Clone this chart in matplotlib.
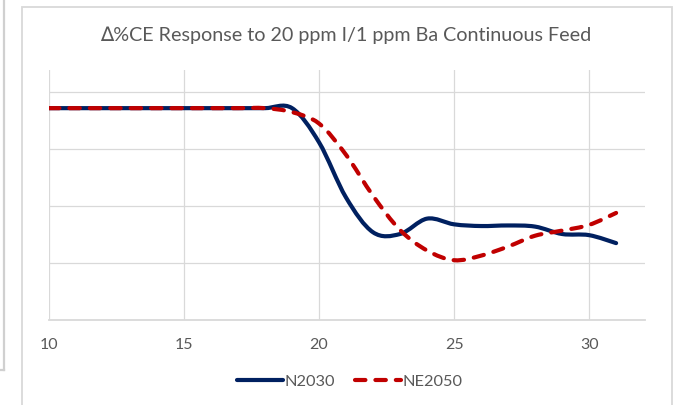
import numpy as np
import matplotlib
matplotlib.use('Agg')
import matplotlib.pyplot as plt
from matplotlib.path import Path
from matplotlib.patches import PathPatch, Rectangle
from matplotlib.lines import Line2D

plt.rcParams['font.family'] = ['Lato', 'DejaVu Sans']

feed = np.arange(10, 32)
n2030 = [3.72, 3.72, 3.72, 3.72, 3.72, 3.72, 3.72, 3.72, 3.72, 3.72,
         3.12, 2.15, 1.54, 1.51, 1.78, 1.68, 1.65, 1.66, 1.64, 1.51,
         1.49, 1.35]
ne2050 = [3.72, 3.72, 3.72, 3.72, 3.72, 3.72, 3.72, 3.72, 3.72, 3.65,
          3.45, 2.90, 2.18, 1.58, 1.22, 1.05, 1.13, 1.29, 1.48, 1.57,
          1.67, 1.88]
xticks = [10, 15, 20, 25, 30]

navy = '#002060'
red = '#C00000'
grey = '#595959'
grid = '#D9D9D9'


def smooth_path(x, y):
    # excel style smoothed line: bezier segments with catmull-rom handles
    p = np.column_stack([x, y]).astype(float)
    verts = [p[0]]
    codes = [Path.MOVETO]
    n = len(p)
    for i in range(n - 1):
        p0 = p[max(i - 1, 0)]
        p1 = p[i]
        p2 = p[i + 1]
        p3 = p[min(i + 2, n - 1)]
        c1 = p1 + (p2 - p0) / 6.0
        c2 = p2 - (p3 - p1) / 6.0
        verts += [c1, c2, p2]
        codes += [Path.CURVE4] * 3
    return Path(verts, codes)


fig = plt.figure(figsize=(6.74, 4.05), dpi=100)
ax = fig.add_axes([49/674, 85/405, 596/674, 250/405])

ax.add_patch(PathPatch(smooth_path(feed, n2030), fill=False, edgecolor=navy,
                       linewidth=3.0, capstyle='round', joinstyle='round'))
ax.add_patch(PathPatch(smooth_path(feed, ne2050), fill=False, edgecolor=red,
                       linewidth=3.0, linestyle=(0, (2.5, 2.4)),
                       capstyle='round', joinstyle='round'))

ax.set_xlim(10, 32.07)
ax.set_ylim(0, 4.39)
ax.set_xticks(xticks)
ax.set_yticks([1, 2, 3, 4])
ax.set_yticklabels([])
ax.grid(True, color=grid, linewidth=0.9)
ax.set_axisbelow(True)
for s in ['left', 'right', 'top']:
    ax.spines[s].set_visible(False)
ax.spines['bottom'].set_color(grid)
ax.spines['bottom'].set_linewidth(1.3)
ax.tick_params(length=0, pad=13, labelsize=11.5, labelcolor=grey)

fig.text(0.513, 0.914, '\u2206%CE Response to 20 ppm I/1 ppm Ba Continuous Feed',
         ha='center', va='center', fontsize=14.2, color=grey)

handles = [Line2D([], [], color=navy, lw=3.0, solid_capstyle='round'),
           Line2D([], [], color=red, lw=3.0, linestyle=(0, (2.5, 2.4)),
                  dash_capstyle='round')]
fig.legend(handles, ['N2030', 'NE2050'], loc='center',
           bbox_to_anchor=(0.519, 0.057), ncol=2, frameon=False,
           fontsize=11.8, handlelength=2.8, handletextpad=0.1,
           columnspacing=1.2, labelcolor=grey)

# chart frame and neighbouring cell border
fig.add_artist(Rectangle((22/674, -0.1), 650/674, 1.1 - 7/405,
                         transform=fig.transFigure, fill=False,
                         edgecolor=grid, linewidth=1.3))
fig.add_artist(Line2D([4/674, 4/674], [1, 1 - 370/405],
                      transform=fig.transFigure, color='#D0D0D0', lw=1.6))
fig.add_artist(Line2D([0, 4/674], [1 - 370/405, 1 - 370/405],
                      transform=fig.transFigure, color='#D0D0D0', lw=1.6))

fig.savefig('out.png', dpi=100)
